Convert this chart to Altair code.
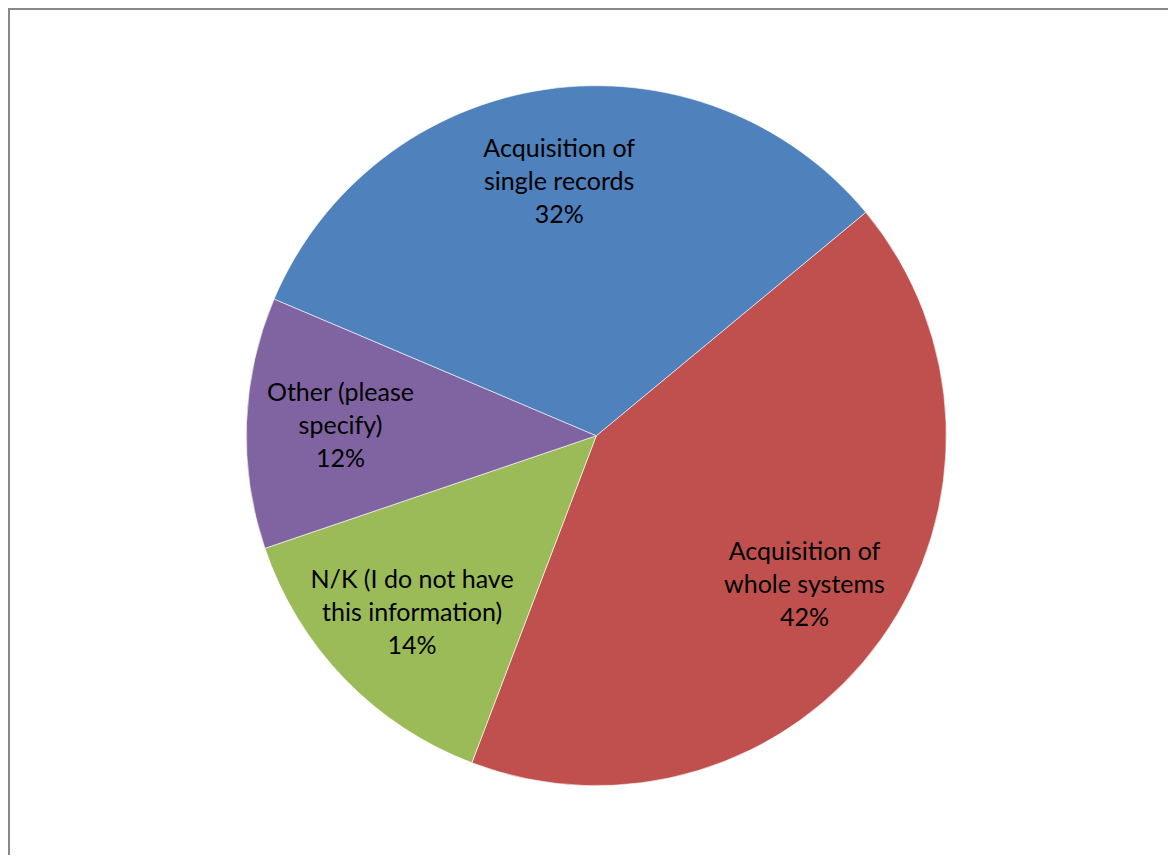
import math
import altair as alt
import pandas as pd

categories = ["Acquisition of whole systems", "N/K (I do not have this information)",
              "Other (please specify)", "Acquisition of single records"]
values = [41.8, 14.0, 11.6, 32.6]
labels = ["Acquisition of\nwhole systems\n42%",
          "N/K (I do not have\nthis information)\n14%",
          "Other (please\nspecify)\n12%",
          "Acquisition of\nsingle records\n32%"]
colors = ["#C0504D", "#9BBB59", "#8064A2", "#4F81BD"]

df = pd.DataFrame({"cat": categories, "val": values, "label": labels,
                   "ord": list(range(len(categories)))})

start = math.radians(50.35)
theta_scale = alt.Scale(range=[start, start + 2 * math.pi])
cx, cy, R = 588.3, 427.7, 350

base = alt.Chart(df).encode(
    theta=alt.Theta("val:Q", stack=True, scale=theta_scale),
    order=alt.Order("ord:Q"),
)

arcs = base.mark_arc(radius=R, stroke="white", strokeWidth=0.6).encode(
    x=alt.value(cx), y=alt.value(cy),
    color=alt.Color("cat:N", scale=alt.Scale(domain=categories, range=colors), legend=None),
)

texts = base.mark_text(radius=256, lineBreak="\n", lineHeight=33, font="Lato",
                       fontSize=25, color="black", align="center", baseline="middle",
                       dy=-33).encode(
    x=alt.value(cx), y=alt.value(cy),
    text="label:N",
)

border_top = alt.Chart(df).mark_rule(color="#888888", strokeWidth=2).encode(
    x=alt.value(0), x2=alt.value(1168), y=alt.value(1))
border_left = alt.Chart(df).mark_rule(color="#888888", strokeWidth=2).encode(
    x=alt.value(1), y=alt.value(0), y2=alt.value(855))

chart = alt.layer(arcs, texts, border_top, border_left).properties(
    width=1160, height=847, padding=0, autosize="none"
).configure_view(stroke=None)

chart.save("out.html", embed_options={"renderer": "svg", "actions": False})
